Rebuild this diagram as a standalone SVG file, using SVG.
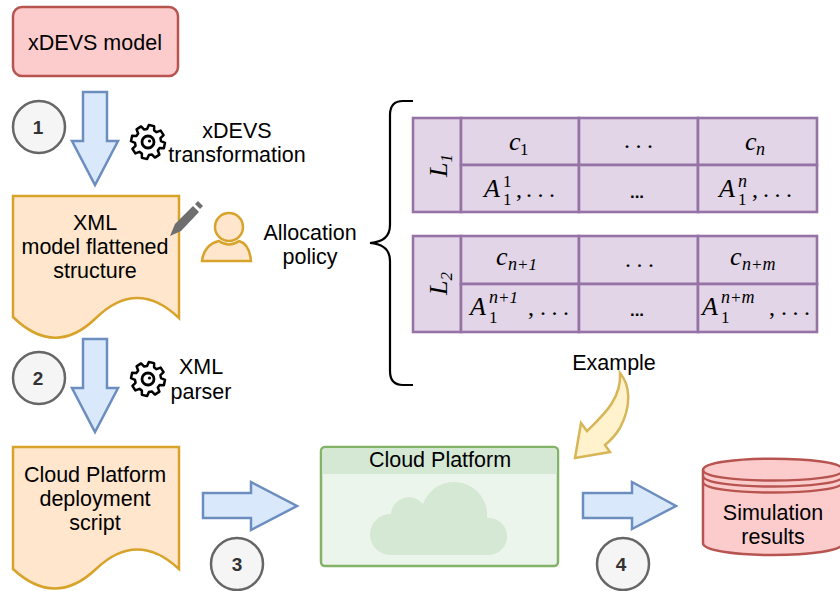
<svg xmlns="http://www.w3.org/2000/svg" xmlns:xlink="http://www.w3.org/1999/xlink" width="840" height="591" viewBox="0 0 840 591">
<style>
text{font-family:"Liberation Sans",Arial,sans-serif;font-size:21.5px;fill:#000}
.c{text-anchor:middle}
.arrow{fill:#dae8fc;stroke:#6c8ebf;stroke-width:2.5;stroke-linejoin:miter}
.step{fill:#f5f5f5;stroke:#666;stroke-width:2.5}
.stepn{font-weight:bold;fill:#333;font-size:19px;text-anchor:middle}
.doc{fill:#ffe6cc;stroke:#d8a32a;stroke-width:2.5}
.cell{fill:#e1d5e7;stroke:#9673a6;stroke-width:2.6}
.m{font-family:"Liberation Serif",serif;font-style:italic;font-size:26px}
.n{font-family:"Liberation Serif",serif;font-size:24px;letter-spacing:5.5px}
.s{font-family:"Liberation Serif",serif;font-size:17px}
.si{font-family:"Liberation Serif",serif;font-style:italic;font-size:18px}
.d{font-weight:bold;font-size:17px;text-anchor:middle}
.gear{fill:#fff;stroke:#000;stroke-width:2.5;stroke-linejoin:round}
.red{fill:#fccccc;stroke:#b85450;stroke-width:2.5}
</style>
<defs>
<g id="gearIcon">
<path class="gear" d="M16.8-2.7L16.8 2.7L12.5 3.6L11.4 6.3L13.8 10L10 13.8L6.3 11.4L3.6 12.5L2.7 16.8L-2.7 16.8L-3.6 12.5L-6.3 11.4L-10 13.8L-13.8 10L-11.4 6.3L-12.5 3.6L-16.8 2.7L-16.8-2.7L-12.5-3.6L-11.4-6.3L-13.8-10L-10-13.8L-6.3-11.4L-3.6-12.5L-2.7-16.8L2.7-16.8L3.6-12.5L6.3-11.4L10-13.8L13.8-10L11.4-6.3L12.5-3.6Z" transform="rotate(12)"/>
<circle r="6" fill="#fff" stroke="#000" stroke-width="2.8"/>
<circle cx="1.5" cy="-1" r="1.6" fill="#000"/>
</g>
</defs>

<g id="connectors">
<path class="arrow" d="M83 92H107V141H118L95 185L72 141H83Z"/>
<path class="arrow" d="M83 339H107V388H118L95 432L72 388H83Z"/>
<path class="arrow" d="M203 493H251V482L297 506L251 530V518H203Z"/>
<path class="arrow" d="M583 493H632V482L676 506L632 529V518H583Z"/>
<path fill="#fff2cc" stroke="#d6b656" stroke-width="2.5" d="M620 373C630 385 632 405 620 428C615 436 610 441 605 445L610 452L575 458L581 423L587 431C600 418 622 400 620 373Z"/>
<path fill="none" stroke="#000" stroke-width="2.2" d="M413 101H403C394 101 390 106 390 115V225C390 236 384 242 370 243C384 244 390 250 390 261V371C390 380 394 385 403 385H413"/>
</g>

<g id="model"><rect x="13" y="7" width="165" height="69" rx="9" class="red"/><text class="c" x="95" y="50">xDEVS model</text></g>

<g id="step1"><circle class="step" cx="39" cy="127" r="26"/><text class="stepn" x="38" y="134">1</text></g>
<g id="step2"><circle class="step" cx="39" cy="378" r="26"/><text class="stepn" x="38" y="385">2</text></g>
<g id="step3"><circle class="step" cx="237" cy="564" r="26"/><text class="stepn" x="237" y="571">3</text></g>
<g id="step4"><circle class="step" cx="623" cy="564" r="26"/><text class="stepn" x="621" y="571">4</text></g>

<g id="transformation"><use xlink:href="#gearIcon" href="#gearIcon" x="148" y="142"/><text class="c" x="237" y="138">xDEVS</text><text class="c" x="237" y="162">transformation</text></g>
<g id="parser"><use xlink:href="#gearIcon" href="#gearIcon" x="148" y="379"/><text class="c" x="201" y="374">XML</text><text class="c" x="201" y="399">parser</text></g>

<g id="xmlDoc"><path class="doc" d="M13 196H179V318Q137 278 96 318Q55 358 13 317Z"/><text class="c" x="95" y="230">XML</text><text class="c" x="95" y="254">model flattened</text><text class="c" x="95" y="278">structure</text></g>
<g id="pencil"><path fill="#6e6e6e" d="M170 236L175 224L193 206L199 212L181 231Z"/><path fill="#6e6e6e" d="M195 204L198 201L203 206L200 209Z"/></g>
<g id="user"><circle cx="229" cy="227" r="14" class="doc"/><path class="doc" d="M202 261C203 250 210 243 219 241C226 246 232 246 239 241C246 243 250 250 251 261Z"/></g>
<g id="allocation"><text class="c" x="310" y="240">Allocation</text><text class="c" x="310" y="264">policy</text></g>

<g id="table1">
<rect class="cell" x="413" y="118" width="48" height="94"/>
<rect class="cell" x="461" y="118" width="118" height="47"/><rect class="cell" x="579" y="118" width="119" height="47"/><rect class="cell" x="698" y="118" width="119" height="47"/>
<rect class="cell" x="461" y="165" width="118" height="47"/><rect class="cell" x="579" y="165" width="119" height="47"/><rect class="cell" x="698" y="165" width="119" height="47"/>
<text class="m" transform="translate(447,177) rotate(-90)">L<tspan class="s" dy="5">1</tspan></text>
<text class="m" x="509" y="150">c</text><text class="s" x="520" y="155">1</text>
<text class="n" x="624" y="148">...</text>
<text class="m" x="745" y="150">c</text><text class="si" x="756" y="155">n</text>
<text class="m" x="484" y="197">A</text><text class="s" x="503" y="187">1</text><text class="s" x="503" y="205">1</text><text class="n" x="516" y="197">,</text><text class="n" x="526" y="197">...</text>
<text class="d" x="637" y="198">...</text>
<text class="m" x="719" y="197">A</text><text class="si" x="738" y="187">n</text><text class="s" x="738" y="205">1</text><text class="n" x="752" y="197">,</text><text class="n" x="763" y="197">...</text>
</g>

<g id="table2">
<rect class="cell" x="413" y="236" width="48" height="96"/>
<rect class="cell" x="461" y="236" width="118" height="48"/><rect class="cell" x="579" y="236" width="119" height="48"/><rect class="cell" x="698" y="236" width="119" height="48"/>
<rect class="cell" x="461" y="284" width="118" height="48"/><rect class="cell" x="579" y="284" width="119" height="48"/><rect class="cell" x="698" y="284" width="119" height="48"/>
<text class="m" transform="translate(447,295) rotate(-90)">L<tspan class="s" dy="5">2</tspan></text>
<text class="m" x="496" y="265">c</text><text class="si" x="508" y="270">n<tspan class="s" font-size="18">+1</tspan></text>
<text class="n" x="625" y="267">...</text>
<text class="m" x="730" y="265">c</text><text class="si" x="742" y="270">n<tspan class="s">+</tspan>m</text>
<text class="m" x="470" y="315">A</text><text class="si" x="489" y="303">n<tspan class="s">+1</tspan></text><text class="s" x="489" y="323">1</text><text class="n" x="528" y="315">,</text><text class="n" x="540" y="315">...</text>
<text class="d" x="637" y="316">...</text>
<text class="m" x="702" y="315">A</text><text class="si" x="721" y="303">n<tspan class="s">+</tspan>m</text><text class="s" x="721" y="323">1</text><text class="n" x="769" y="315">,</text><text class="n" x="781" y="315">...</text>
</g>

<g id="example"><text class="c" x="614" y="370">Example</text></g>

<g id="scriptDoc"><path class="doc" d="M13 447H179V569Q137 530 96 569Q55 608 13 569Z"/><text class="c" x="95" y="482">Cloud Platform</text><text class="c" x="95" y="506">deployment</text><text class="c" x="95" y="530">script</text></g>

<g id="cloudPlatform">
<rect x="321" y="447" width="237" height="119" rx="4" fill="#ebf5ec" stroke="#82b366" stroke-width="2.5"/>
<path d="M322.200 474V452Q322.200 448.200 326 448.200H553Q556.800 448.200 556.800 452V474Z" fill="#d5e8d4"/>
<path fill="#d5e8d4" d="M390 555A20.500 20.500 0 1 1 391 514A18 18 0 0 1 423 504A33 33 0 0 1 487 518A18.500 18.500 0 1 1 490 555Z"/>
<text class="c" x="440" y="467">Cloud Platform</text>
</g>

<g id="results">
<path class="red" d="M703 470C703 455 843 455 843 470V543C843 559 703 559 703 543Z"/>
<path fill="none" stroke="#b85450" stroke-width="2.5" d="M703 470C703 484 843 484 843 470M703 476C703 490 843 490 843 476M703 482C703 496 843 496 843 482"/>
<text class="c" x="773" y="520">Simulation</text><text class="c" x="773" y="544">results</text>
</g>
</svg>
